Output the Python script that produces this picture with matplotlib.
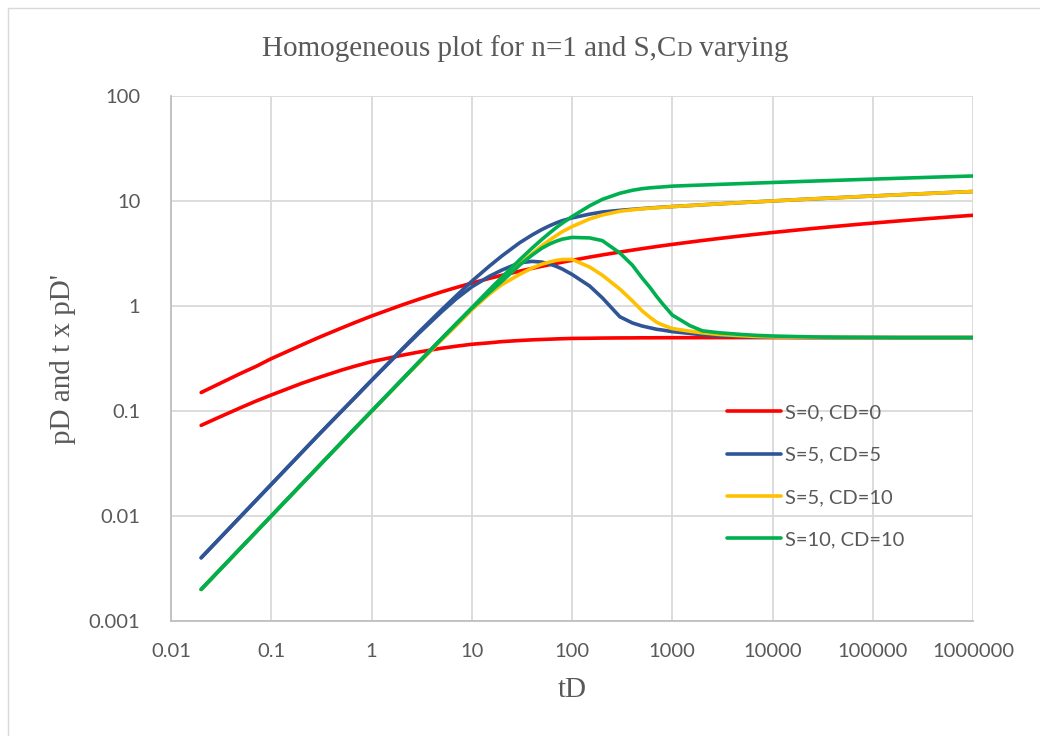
import matplotlib
matplotlib.use("Agg")
import matplotlib.pyplot as plt
from matplotlib.patches import Rectangle
from matplotlib.ticker import FixedLocator, NullLocator

# dimensionless time
t_d = [0.02, 0.03, 0.05, 0.07,
       0.1, 0.2, 0.3, 0.5, 0.7,
       1, 2, 3, 5, 7,
       10, 15, 20, 30, 40, 50, 60, 70, 80,
       100, 150, 200, 300, 400, 500, 600, 700, 800,
       1000, 1500, 2000, 3000, 5000, 7000,
       1e4, 2e4, 3e4, 5e4, 7e4,
       1e5, 2e5, 3e5, 5e5, 7e5,
       1e6]

# S=0, CD=0
pd_s0_c0 = [0.150, 0.181, 0.229, 0.265,
            0.315, 0.424, 0.503, 0.616, 0.702,
            0.802, 1.020, 1.164, 1.363, 1.500,
            1.651, 1.832, 1.960, 2.147, 2.283, 2.389, 2.476, 2.550, 2.615,
            2.723, 2.923, 3.064, 3.263, 3.405, 3.516, 3.607, 3.684, 3.751,
            3.860, 4.062, 4.205, 4.408, 4.663, 4.831,
            5.010, 5.356, 5.559, 5.814, 5.983,
            6.161, 6.507, 6.710, 6.965, 7.134,
            7.312]
dpd_s0_c0 = [0.073, 0.087, 0.108, 0.124,
             0.142, 0.183, 0.209, 0.245, 0.269,
             0.295, 0.339, 0.365, 0.396, 0.414,
             0.432, 0.446, 0.458, 0.469, 0.476, 0.480, 0.483, 0.486, 0.488,
             0.491, 0.493, 0.495, 0.4965, 0.497, 0.498, 0.498, 0.4985, 0.4988,
             0.499, 0.4993, 0.4995, 0.500, 0.500, 0.500,
             0.500, 0.500, 0.500, 0.500, 0.500,
             0.500, 0.500, 0.500, 0.500, 0.500,
             0.500]

# S=5, CD=5
pd_s5_c5 = [0.004, 0.006, 0.010, 0.014,
            0.020, 0.040, 0.060, 0.099, 0.138,
            0.196, 0.385, 0.570, 0.920, 1.250,
            1.720, 2.400, 3.000, 4.000, 4.750, 5.350, 5.820, 6.200, 6.500,
            6.900, 7.500, 7.850, 8.150, 8.330, 8.470, 8.580, 8.670, 8.740,
            8.850, 9.050, 9.200, 9.400, 9.660, 9.830,
            10.01, 10.36, 10.56, 10.81, 10.98,
            11.16, 11.51, 11.71, 11.97, 12.13,
            12.31]
dpd_s5_c5 = [0.004, 0.006, 0.010, 0.014,
             0.020, 0.040, 0.060, 0.099, 0.137,
             0.195, 0.380, 0.555, 0.880, 1.170,
             1.520, 1.920, 2.200, 2.580, 2.660, 2.620, 2.510, 2.380, 2.250,
             2.000, 1.550, 1.200, 0.790, 0.690, 0.645, 0.620, 0.600, 0.590,
             0.570, 0.548, 0.532, 0.520, 0.510, 0.507,
             0.505, 0.502, 0.501, 0.500, 0.500,
             0.500, 0.500, 0.500, 0.500, 0.500,
             0.500]

# S=5, CD=10
pd_s5_c10 = [0.002, 0.003, 0.005, 0.007,
             0.010, 0.020, 0.030, 0.050, 0.070,
             0.099, 0.197, 0.294, 0.485, 0.670,
             0.940, 1.380, 1.780, 2.500, 3.150, 3.750, 4.250, 4.700, 5.100,
             5.700, 6.750, 7.350, 7.980, 8.250, 8.420, 8.540, 8.630, 8.710,
             8.840, 9.050, 9.200, 9.400, 9.660, 9.830,
             10.01, 10.36, 10.56, 10.81, 10.98,
             11.16, 11.51, 11.71, 11.97, 12.13,
             12.31]
dpd_s5_c10 = [0.002, 0.003, 0.005, 0.007,
              0.010, 0.020, 0.030, 0.050, 0.070,
              0.099, 0.196, 0.290, 0.475, 0.650,
              0.920, 1.300, 1.600, 2.000, 2.300, 2.500, 2.630, 2.720, 2.770,
              2.780, 2.350, 1.970, 1.450, 1.120, 0.900, 0.780, 0.700, 0.660,
              0.610, 0.575, 0.555, 0.535, 0.520, 0.512,
              0.508, 0.504, 0.502, 0.501, 0.500,
              0.500, 0.500, 0.500, 0.500, 0.500,
              0.500]

# S=10, CD=10
pd_s10_c10 = [0.002, 0.003, 0.005, 0.007,
              0.010, 0.020, 0.030, 0.050, 0.070,
              0.0995, 0.198, 0.296, 0.490, 0.680,
              0.960, 1.430, 1.880, 2.750, 3.560, 4.300, 4.980, 5.600, 6.150,
              7.100, 9.000, 10.35, 11.85, 12.65, 13.10, 13.35, 13.50, 13.62,
              13.85, 14.06, 14.20, 14.41, 14.66, 14.83,
              15.01, 15.36, 15.56, 15.81, 15.98,
              16.16, 16.51, 16.71, 16.97, 17.13,
              17.31]
dpd_s10_c10 = [0.002, 0.003, 0.005, 0.007,
               0.010, 0.020, 0.030, 0.050, 0.070,
               0.0995, 0.197, 0.295, 0.488, 0.675,
               0.950, 1.350, 1.720, 2.450, 3.050, 3.550, 3.900, 4.150, 4.330,
               4.500, 4.450, 4.200, 3.200, 2.450, 1.850, 1.500, 1.230, 1.050,
               0.820, 0.650, 0.580, 0.555, 0.535, 0.525,
               0.518, 0.510, 0.506, 0.504, 0.503,
               0.502, 0.500, 0.500, 0.500, 0.500,
               0.500]

series = [
    ("S=0, CD=0", "#FF0000", pd_s0_c0, dpd_s0_c0),
    ("S=5, CD=5", "#2F5597", pd_s5_c5, dpd_s5_c5),
    ("S=5, CD=10", "#FFC000", pd_s5_c10, dpd_s5_c10),
    ("S=10, CD=10", "#00B050", pd_s10_c10, dpd_s10_c10),
]

x_ticks = [0.01, 0.1, 1, 10, 100, 1000, 10000, 100000, 1000000]
x_tick_labels = ["0.01", "0.1", "1", "10", "100", "1000", "10000", "100000", "1000000"]
y_ticks = [0.001, 0.01, 0.1, 1, 10, 100]
y_tick_labels = ["0.001", "0.01", "0.1", "1", "10", "100"]

W, H = 1040, 736
fig = plt.figure(figsize=(W / 100, H / 100), dpi=100)
fig.patch.set_facecolor("white")

# chart-area border
fig.patches.append(Rectangle((8 / W, -0.05), 1.2, 1 - 8 / H + 0.05,
                             transform=fig.transFigure, fill=False,
                             edgecolor="#D9D9D9", linewidth=1.0))

ax = fig.add_axes([171 / W, 1 - 621 / H, (973 - 171) / W, (621 - 96) / H])
ax.set_xscale("log")
ax.set_yscale("log")
ax.set_xlim(0.01, 1e6)
ax.set_ylim(0.001, 100)

grid_c = "#D9D9D9"
ax.xaxis.set_major_locator(FixedLocator(x_ticks))
ax.yaxis.set_major_locator(FixedLocator(y_ticks))
ax.xaxis.set_minor_locator(NullLocator())
ax.yaxis.set_minor_locator(NullLocator())
ax.set_xticklabels(x_tick_labels)
ax.set_yticklabels(y_tick_labels)
ax.grid(True, which="major", color=grid_c, linewidth=1.3)
ax.set_axisbelow(True)
for side in ("top", "right"):
    ax.spines[side].set_visible(False)
for side in ("left", "bottom"):
    ax.spines[side].set_color("#BFBFBF")
    ax.spines[side].set_linewidth(1.3)

tick_font = dict(family="Lato", size=14.5, color="#595959")
ax.tick_params(axis="both", length=0)
ax.tick_params(axis="x", pad=16)
ax.tick_params(axis="y", pad=22)
for lab in ax.get_xticklabels() + ax.get_yticklabels():
    lab.set_fontfamily(tick_font["family"])
    lab.set_fontsize(tick_font["size"])
    lab.set_color(tick_font["color"])

handles = []
for name, color, pd_vals, dpd_vals in series:
    ln, = ax.plot(t_d, pd_vals, color=color, linewidth=2.6,
                  solid_capstyle="round", solid_joinstyle="round", label=name)
    ax.plot(t_d, dpd_vals, color=color, linewidth=2.6,
            solid_capstyle="round", solid_joinstyle="round")
    handles.append(ln)

leg = ax.legend(handles=handles, loc="upper left",
                bbox_to_anchor=(727 / W, 1 - 404 / H),
                bbox_transform=fig.transFigure,
                frameon=False, borderpad=0, borderaxespad=0,
                handlelength=2.7, handletextpad=0.2, labelspacing=1.26,
                prop=dict(family="Lato", size=14.5))
for txt in leg.get_texts():
    txt.set_color("#595959")

serif = "Liberation Serif"
text_c = "#595959"
ax.set_xlabel("tD", family=serif, fontsize=21, color=text_c, labelpad=12)
ax.set_ylabel("pD and t x pD'", family=serif, fontsize=21, color=text_c, labelpad=9)

# title with a small-capital D
fig.canvas.draw()
renderer = fig.canvas.get_renderer()
title_y = 1 - 56 / H
parts = [("Homogeneous plot for n=1 and S,C", 21), ("D", 15.5), (" varying", 21)]
objs = [fig.text(0, title_y, s, family=serif, fontsize=fs, color=text_c, va="baseline")
        for s, fs in parts]
widths = [o.get_window_extent(renderer).width for o in objs]
x0 = 525 - sum(widths) / 2
for o, w in zip(objs, widths):
    o.set_x(x0 / W)
    x0 += w

fig.savefig("out.png", dpi=100, facecolor="white")
